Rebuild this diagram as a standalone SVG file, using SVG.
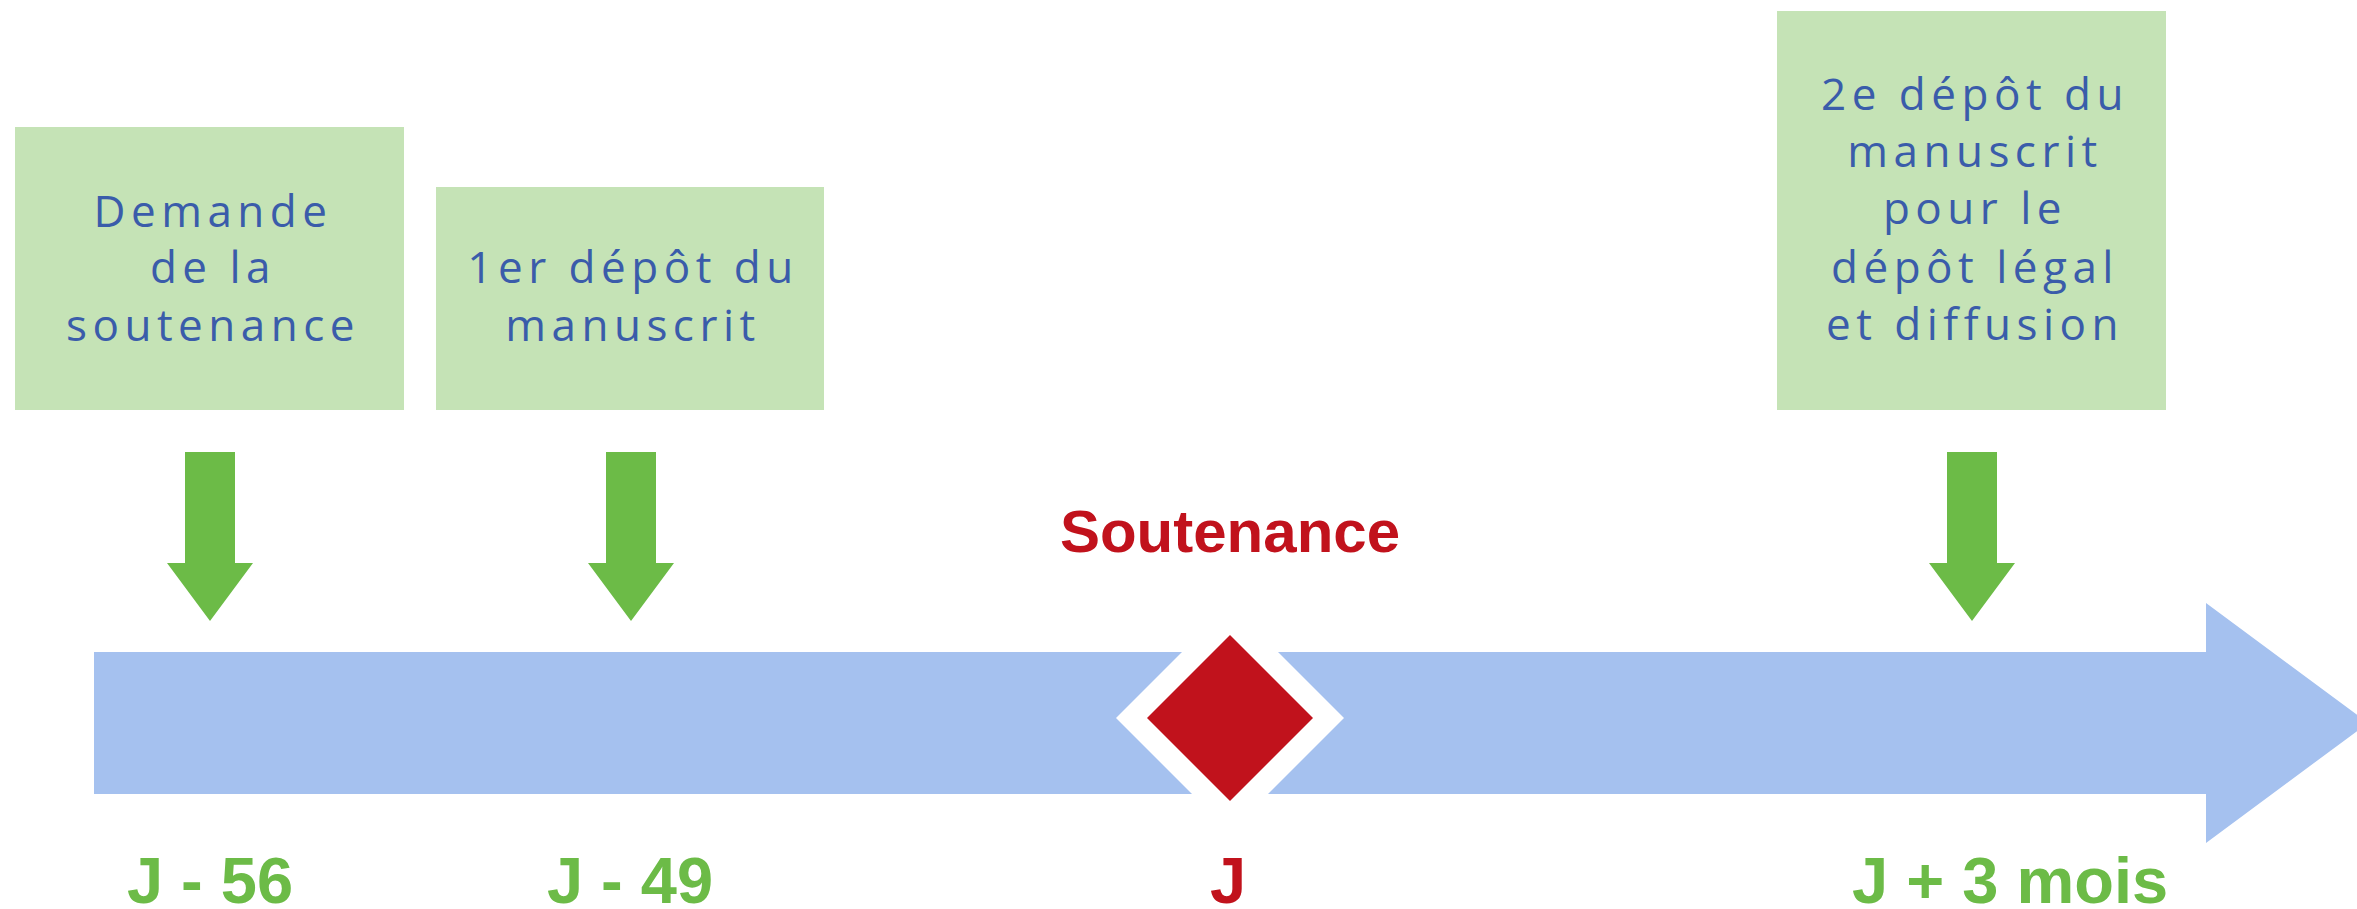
<svg xmlns="http://www.w3.org/2000/svg" width="2357" height="909" viewBox="0 0 2357 909">
<style>
.box{fill:#C5E3B6}
.bt{font-family:"Open Sans","Liberation Sans",sans-serif;font-size:44px;fill:#3A5CAA;text-anchor:middle;letter-spacing:5.5px}
.gar{fill:#6CBB47}
.lab{font-family:"Liberation Sans",Arial,sans-serif;font-weight:bold;font-size:65px;fill:#6CBB47}
.red{fill:#C1121C}
.sout{font-family:"Liberation Sans",Arial,sans-serif;font-weight:bold;font-size:60px;fill:#C1121C;text-anchor:middle}
</style>
<rect width="2357" height="909" fill="#ffffff"/>
<g id="timeline">
<polygon points="94,652 2206,652 2206,603 2368,723 2206,843 2206,794 94,794" fill="#A5C1EF"/>
</g>
<g id="node-demande">
<rect class="box" x="15" y="127" width="389" height="283"/>
<text class="bt" x="213" y="227">Demande</text>
<text class="bt" x="213" y="283">de la</text>
<text class="bt" x="213" y="341">soutenance</text>
</g>
<g id="node-depot1">
<rect class="box" x="436" y="187" width="388" height="223"/>
<text class="bt" x="633" y="283">1er dépôt du</text>
<text class="bt" x="633" y="341">manuscrit</text>
</g>
<g id="node-depot2">
<rect class="box" x="1777" y="11" width="389" height="399"/>
<text class="bt" x="1975" y="110">2e dépôt du</text>
<text class="bt" x="1975" y="167">manuscrit</text>
<text class="bt" x="1975" y="224">pour le</text>
<text class="bt" x="1975" y="283">dépôt légal</text>
<text class="bt" x="1975" y="340">et diffusion</text>
</g>
<g id="connectors">
<polygon class="gar" points="185,452 235,452 235,563 253,563 210,621 167,563 185,563"/>
<polygon class="gar" points="606,452 656,452 656,563 674,563 631,621 588,563 606,563"/>
<polygon class="gar" points="1947,452 1997,452 1997,563 2015,563 1972,621 1929,563 1947,563"/>
</g>
<g id="node-soutenance">
<text class="sout" x="1230" y="552">Soutenance</text>
<polygon points="1230,604 1344,718 1230,832 1116,718" fill="#ffffff"/>
<polygon points="1230,635 1313,718 1230,801 1147,718" fill="#C1121C"/>
</g>
<g id="labels">
<text class="lab" x="210" y="903" text-anchor="middle">J - 56</text>
<text class="lab" x="630" y="903" text-anchor="middle">J - 49</text>
<text class="lab red" x="1228" y="903" text-anchor="middle">J</text>
<text class="lab" x="1852" y="903">J + 3 mois</text>
</g>
</svg>
